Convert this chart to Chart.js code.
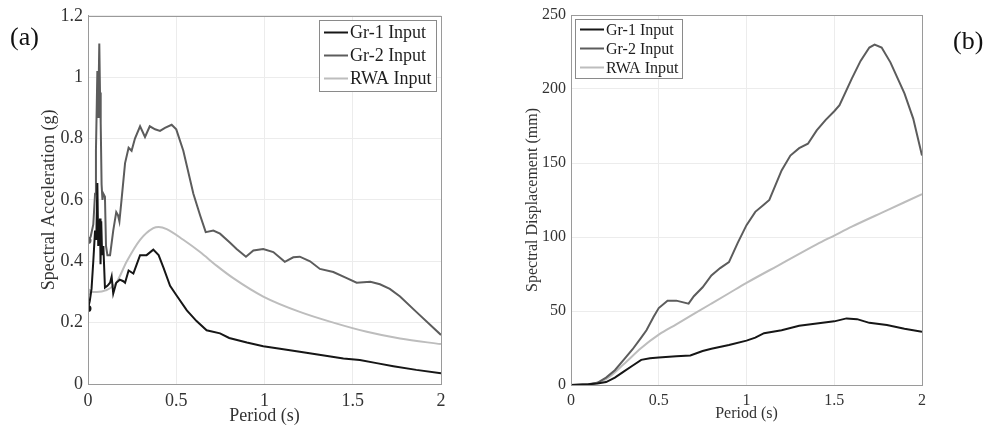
<!DOCTYPE html>
<html>
<head>
<meta charset="utf-8">
<script src="https://cdn.jsdelivr.net/npm/chart.js@4"></script>
<style>
html, body { margin: 0; padding: 0; background: #fff; }
#wrap { position: relative; width: 991px; height: 428px; }
canvas { position: absolute; top: 0; }
#chartA { left: 0; }
#chartB { left: 490px; }
</style>
</head>
<body>
<div id="wrap">
  <canvas id="chartA" width="470" height="428"></canvas>
  <canvas id="chartB" width="501" height="428"></canvas>
</div>
<script>
// (a) spectral acceleration (g) vs period (s)
const aGr1T = [0, 0.01, 0.02, 0.03, 0.04, 0.047, 0.053, 0.058, 0.063, 0.068, 0.071, 0.075, 0.08, 0.087, 0.096, 0.11, 0.125, 0.134, 0.143, 0.16, 0.18, 0.2, 0.21, 0.23, 0.257, 0.276, 0.295, 0.332, 0.37, 0.4, 0.427, 0.465, 0.5, 0.56, 0.615, 0.672, 0.748, 0.8, 0.9, 0.993, 1.088, 1.2, 1.31, 1.447, 1.54, 1.635, 1.73, 1.86, 2.0];
const aGr1Sa = [0.246, 0.27, 0.31, 0.4, 0.5, 0.47, 0.655, 0.45, 0.5, 0.539, 0.39, 0.53, 0.42, 0.45, 0.314, 0.32, 0.33, 0.35, 0.295, 0.33, 0.34, 0.335, 0.33, 0.37, 0.36, 0.39, 0.42, 0.42, 0.438, 0.42, 0.38, 0.32, 0.29, 0.24, 0.205, 0.175, 0.165, 0.15, 0.135, 0.123, 0.115, 0.105, 0.095, 0.083, 0.078, 0.068, 0.058, 0.046, 0.035];

const aGr2T = [0, 0.015, 0.03, 0.04, 0.045, 0.05, 0.053, 0.056, 0.058, 0.061, 0.064, 0.068, 0.072, 0.077, 0.082, 0.087, 0.096, 0.102, 0.11, 0.125, 0.143, 0.16, 0.17, 0.178, 0.19, 0.21, 0.23, 0.247, 0.266, 0.295, 0.323, 0.35, 0.38, 0.408, 0.436, 0.474, 0.5, 0.54, 0.597, 0.635, 0.667, 0.71, 0.748, 0.805, 0.842, 0.895, 0.937, 0.993, 1.05, 1.115, 1.163, 1.2, 1.258, 1.314, 1.39, 1.466, 1.522, 1.6, 1.654, 1.71, 1.768, 1.86, 2.0];
const aGr2Sa = [0.468, 0.48, 0.52, 0.62, 0.76, 0.92, 1.02, 0.9, 0.87, 1.0, 1.11, 0.95, 0.85, 0.65, 0.6, 0.62, 0.61, 0.45, 0.42, 0.42, 0.5, 0.56, 0.55, 0.53, 0.6, 0.72, 0.77, 0.76, 0.8, 0.84, 0.805, 0.84, 0.83, 0.825, 0.835, 0.845, 0.83, 0.76, 0.62, 0.55, 0.495, 0.5, 0.49, 0.46, 0.44, 0.415, 0.435, 0.44, 0.43, 0.398, 0.413, 0.415, 0.4, 0.375, 0.365, 0.345, 0.33, 0.333, 0.325, 0.31, 0.285, 0.235, 0.16];

const aRwaT = [0, 0.05, 0.1, 0.16, 0.22, 0.295, 0.37, 0.4, 0.446, 0.54, 0.635, 0.73, 0.823, 0.993, 1.2, 1.39, 1.58, 1.768, 2.0];
const aRwaSa = [0.30, 0.30, 0.305, 0.33, 0.40, 0.47, 0.508, 0.512, 0.505, 0.47, 0.43, 0.385, 0.345, 0.285, 0.235, 0.2, 0.17, 0.148, 0.13];

// (b) spectral displacement (mm) vs period (s)
const bGr1T = [0, 0.1, 0.15, 0.2, 0.25, 0.3, 0.35, 0.4, 0.45, 0.5, 0.6, 0.68, 0.75, 0.8, 0.9, 1.0, 1.05, 1.1, 1.2, 1.3, 1.4, 1.5, 1.57, 1.63, 1.7, 1.8, 1.9, 2.0];
const bGr1Sd = [0, 0.5, 1, 2, 5, 9, 13, 17, 18, 18.5, 19.5, 20, 23, 24.5, 27, 30, 32, 35, 37, 40, 41.5, 43, 45, 44.5, 42, 40.5, 38, 36];

const bGr2T = [0, 0.1, 0.15, 0.2, 0.25, 0.3, 0.35, 0.4, 0.43, 0.47, 0.5, 0.55, 0.6, 0.67, 0.7, 0.75, 0.8, 0.85, 0.9, 0.95, 1.0, 1.05, 1.1, 1.13, 1.2, 1.25, 1.3, 1.35, 1.4, 1.45, 1.5, 1.53, 1.6, 1.65, 1.7, 1.73, 1.77, 1.82, 1.9, 1.95, 2.0];
const bGr2Sd = [0, 0.5, 1.5, 5, 10, 17, 24, 32, 37, 46, 52, 57, 57, 55, 60, 66, 74, 79, 83, 96, 108, 117, 122, 125, 145, 155, 160, 163, 172, 179, 185, 189, 207, 219, 228, 230, 228, 218, 197, 180, 155];

const bRwaT = [0, 0.1, 0.2, 0.3, 0.4, 0.5, 0.6, 0.7, 0.8, 0.9, 1.0, 1.2, 1.4, 1.5, 1.6, 1.8, 2.0];
const bRwaSd = [0, 0.5, 4, 14, 25, 34, 41, 48, 55, 62, 69, 82, 95, 101, 107, 118, 129];

const seriesNames = ["Gr-1 Input", "Gr-2 Input", "RWA Input"];
const seriesColors = ["#161616", "#5c5c5c", "#bdbdbd"];

const pts = (xs, ys) => xs.map((x, i) => ({ x: x, y: ys[i] }));
// matlab style labels: 1 not 1.0
const tickFmt = v => String(+(+v).toFixed(3));

// box round the plot, legend in a frame, and the (a)/(b) tag
const framePlugin = {
  id: "frame",
  afterDatasetsDraw(chart, args, opts) {
    const ctx = chart.ctx;
    const a = chart.chartArea;
    ctx.save();
    ctx.strokeStyle = "#9a9a9a";
    ctx.lineWidth = 1;
    ctx.strokeRect(Math.round(a.left) + 0.5, Math.round(a.top) + 0.5, Math.round(a.right - a.left), Math.round(a.bottom - a.top));

    ctx.font = opts.size + 'px "Liberation Serif"';
    const labels = chart.data.datasets.map(d => d.label);
    const tw = Math.max(...labels.map(l => ctx.measureText(l).width));
    const w = Math.round(5 + 24 + 2 + tw + 4);
    const h = opts.row * 3 + 2;
    const x = opts.side === "right" ? Math.round(a.right - 5 - w) : Math.round(a.left + 4);
    const y = Math.round(a.top + 4);
    ctx.fillStyle = "#fff";
    ctx.fillRect(x, y, w, h);
    ctx.strokeStyle = "#8a8a8a";
    ctx.strokeRect(x + 0.5, y + 0.5, w, h);
    chart.data.datasets.forEach((d, i) => {
      const cy = y + 1 + opts.row * (i + 0.5);
      ctx.strokeStyle = d.borderColor;
      ctx.lineWidth = 2;
      ctx.beginPath();
      ctx.moveTo(x + 5, cy);
      ctx.lineTo(x + 29, cy);
      ctx.stroke();
      ctx.fillStyle = "#1e1e1e";
      ctx.textBaseline = "middle";
      ctx.fillText(d.label, x + 31, cy + 1);
    });

    ctx.font = '26px "Liberation Serif"';
    ctx.fillStyle = "#111";
    ctx.textBaseline = "middle";
    ctx.fillText(opts.tag, opts.tagX, opts.tagY);
    ctx.restore();
  }
};

function makeChart(el, datasets, o) {
  const font = { family: '"Liberation Serif"', size: o.size };
  return new Chart(el, {
    type: "scatter",
    data: { datasets: datasets },
    plugins: [framePlugin],
    options: {
      responsive: false,
      animation: false,
      devicePixelRatio: 1,
      layout: { padding: { top: 15, right: o.padRight, left: 0, bottom: 0 } },
      scales: {
        x: {
          type: "linear",
          min: 0,
          max: 2,
          ticks: { stepSize: 0.5, font: font, color: "#333", padding: 6, callback: tickFmt },
          grid: { color: "#ececec", drawTicks: false },
          border: { color: "#9a9a9a" },
          title: { display: true, text: "Period (s)", font: font, color: "#333", padding: { top: 0, bottom: o.xTitlePad } },
          afterFit: s => { s.height = o.xH; }
        },
        y: {
          min: 0,
          max: o.yMax,
          ticks: { stepSize: o.yStep, font: font, color: "#333", padding: 5, callback: tickFmt },
          grid: { color: "#ececec", drawTicks: false },
          border: { color: "#9a9a9a" },
          title: { display: true, text: o.yTitle, font: font, color: "#333", padding: { top: o.yTitlePad, bottom: 0 } },
          afterFit: s => { s.width = o.yW; }
        }
      },
      plugins: {
        legend: { display: false },
        tooltip: { enabled: false },
        frame: { side: o.side, size: o.size, row: o.row, tag: o.tag, tagX: o.tagX, tagY: o.tagY }
      }
    }
  });
}

const lineSet = (label, color, data, smooth, dot) => ({
  label: label,
  data: data,
  showLine: true,
  borderColor: color,
  backgroundColor: color,
  borderWidth: 2,
  pointRadius: dot ? (c => c.dataIndex === 0 ? 2.5 : 0) : 0,
  tension: smooth ? 0.4 : 0,
  cubicInterpolationMode: smooth ? "monotone" : "default"
});

makeChart(document.getElementById("chartA"), [
  lineSet(seriesNames[0], seriesColors[0], pts(aGr1T, aGr1Sa), false, true),
  lineSet(seriesNames[1], seriesColors[1], pts(aGr2T, aGr2Sa), false, true),
  lineSet(seriesNames[2], seriesColors[2], pts(aRwaT, aRwaSa), true, true)
], {
  size: 18, yMax: 1.2, yStep: 0.2, yTitle: "Spectral Acceleration (g)",
  yW: 88, xH: 44, padRight: 29, xTitlePad: 1, yTitlePad: 38,
  side: "right", row: 23, tag: "(a)", tagX: 10, tagY: 38
});

makeChart(document.getElementById("chartB"), [
  lineSet(seriesNames[0], seriesColors[0], pts(bGr1T, bGr1Sd), false, false),
  lineSet(seriesNames[1], seriesColors[1], pts(bGr2T, bGr2Sd), false, false),
  lineSet(seriesNames[2], seriesColors[2], pts(bRwaT, bRwaSd), true, false)
], {
  size: 16, yMax: 250, yStep: 50, yTitle: "Spectral Displacement (mm)",
  yW: 81, xH: 43, padRight: 69, xTitlePad: 5, yTitlePad: 33,
  side: "left", row: 19, tag: "(b)", tagX: 463, tagY: 42
});
</script>
</body>
</html>
